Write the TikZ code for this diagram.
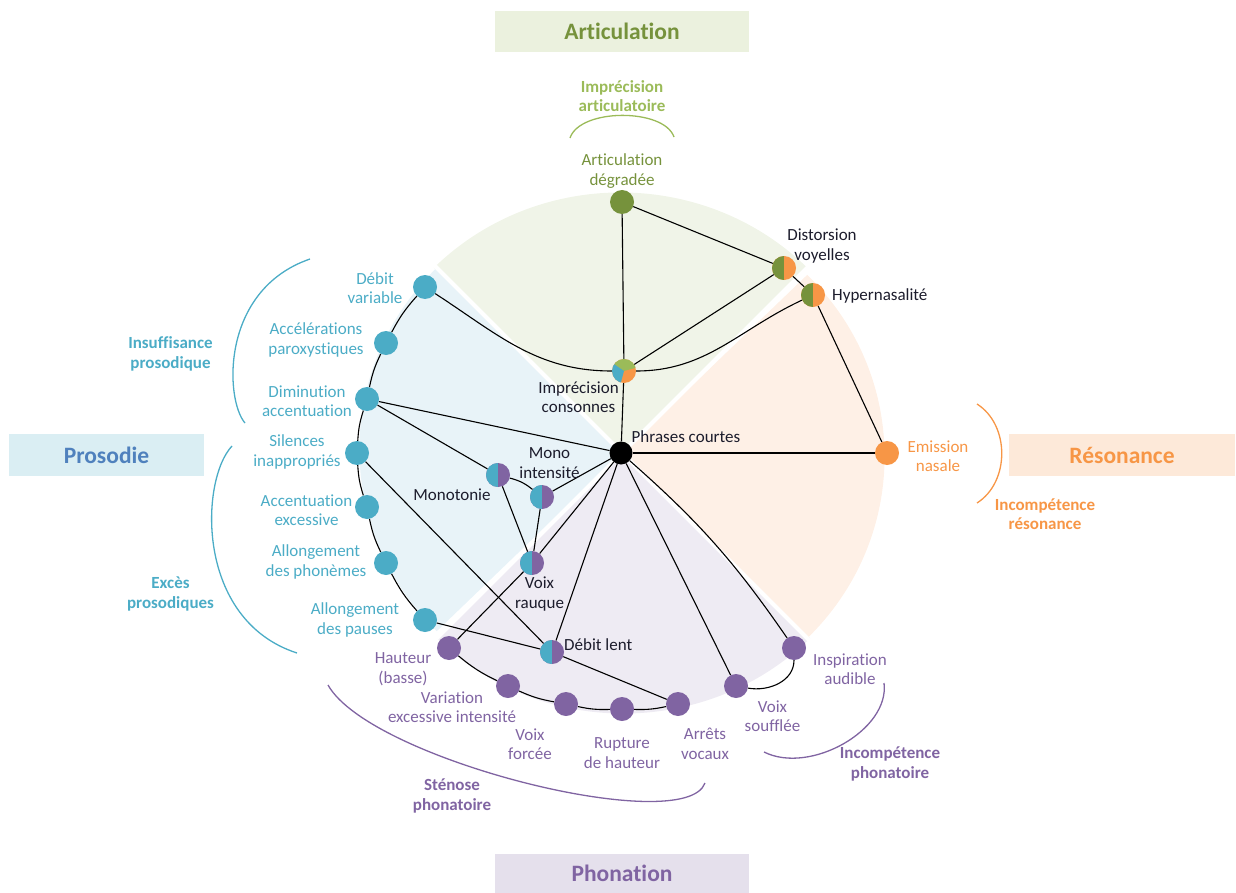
\documentclass[tikz,border=0pt]{standalone}
\usepackage{fontspec}
\setmainfont{Carlito}[Ligatures=NoCommon]
\definecolor{artdark}{HTML}{76923C}
\definecolor{artlight}{HTML}{9BBB59}
\definecolor{prosteal}{HTML}{4BACC6}
\definecolor{prosblue}{HTML}{4F81BD}
\definecolor{resor}{HTML}{F79646}
\definecolor{phonpur}{HTML}{8064A2}
\definecolor{artbg}{HTML}{F0F4E8}
\definecolor{prosbg}{HTML}{E8F3F8}
\definecolor{resbg}{HTML}{FEF0E6}
\definecolor{phonbg}{HTML}{EEEBF3}
\definecolor{artbox}{HTML}{EBF1DE}
\definecolor{prosbox}{HTML}{DAEEF3}
\definecolor{resbox}{HTML}{FDE9D9}
\definecolor{phonbox}{HTML}{E5E0EC}
\definecolor{ink}{HTML}{1C1C2C}
\tikzset{
  dot/.style={circle, minimum size=24pt, inner sep=0pt, draw=none},
  bluedot/.style={dot, fill=prosteal},
  purpdot/.style={dot, fill=phonpur},
  greendot/.style={dot, fill=artdark},
  orangedot/.style={dot, fill=resor},
  halfdot/.style 2 args={dot, fill=#2,
    path picture={\fill[#1] (path picture bounding box.south west) rectangle (path picture bounding box.north);}},
  link/.style={draw=black, line width=1.1pt},
  brk/.style={line width=1.3pt},
  lbl/.style={font=\fontsize{17}{19.5}\selectfont, align=center, inner sep=0pt},
  blbl/.style={lbl, font=\fontsize{17}{19.5}\selectfont\bfseries},
  titlebox/.style={font=\fontsize{23.5}{26}\selectfont\bfseries, inner sep=0pt}
}
\begin{document}
\begin{tikzpicture}[x=1pt,y=1pt]
\useasboundingbox (0,0) rectangle (1236,-893);
\coordinate (C) at (622,-453);

% four coloured sectors of the wheel
\fill[artbg]  (C) -- ++(45:262)  arc[start angle=45,  end angle=135, x radius=264, y radius=257] -- cycle;
\fill[prosbg] (C) -- ++(135:262) arc[start angle=135, end angle=225, x radius=264, y radius=257] -- cycle;
\fill[phonbg] (C) -- ++(225:262) arc[start angle=225, end angle=315, x radius=264, y radius=257] -- cycle;
\fill[resbg]  (C) -- ++(-45:262) arc[start angle=-45, end angle=45,  x radius=264, y radius=257] -- cycle;
\foreach \a in {45,135,225,315} \draw[white, line width=4pt] (C) -- ++(\a:280);

% category boxes
\node[titlebox, fill=artbox, text=artdark, minimum width=254pt, minimum height=41pt] (tart) at (622,-31.5) {Articulation};
\node[titlebox, fill=prosbox, text=prosblue, minimum width=195pt, minimum height=42pt] (tpros) at (106.5,-455) {Prosodie};
\node[titlebox, fill=resbox, text=resor, minimum width=226pt, minimum height=42pt] (tres) at (1122,-455) {Résonance};
\node[titlebox, fill=phonbox, text=phonpur, minimum width=254pt, minimum height=39pt] (tphon) at (622,-873.5) {Phonation};

% symptom nodes
\node[dot, fill=black, minimum size=23pt] (pc) at (621,-453) {};
\node[greendot] (ad) at (622,-202) {};
\node[halfdot={artdark}{resor}] (dv) at (784,-268) {};
\node[halfdot={artdark}{resor}] (hy) at (813,-295) {};
\node[dot, fill=resor,
  path picture={
    \fill[artlight] (path picture bounding box.center) -- ++(15:14) arc[start angle=15, end angle=145, radius=14] -- cycle;
    \fill[prosteal] (path picture bounding box.center) -- ++(145:14) arc[start angle=145, end angle=255, radius=14] -- cycle;
  }] (ic) at (624,-371) {};
\node[orangedot] (en) at (887,-453) {};

\node[bluedot] (dvar) at (425,-287) {};
\node[bluedot] (ap) at (386,-343) {};
\node[bluedot] (da) at (367,-399) {};
\node[bluedot] (si) at (357,-453) {};
\node[bluedot] (ae) at (367,-507) {};
\node[bluedot] (aph) at (386,-563) {};
\node[bluedot] (apa) at (425,-620) {};

\node[halfdot={prosteal}{phonpur}] (mo) at (498,-475) {};
\node[halfdot={prosteal}{phonpur}] (mi) at (542,-497) {};
\node[halfdot={prosteal}{phonpur}] (vr) at (532,-563) {};
\node[halfdot={prosteal}{phonpur}] (dl) at (552,-652) {};

\node[purpdot] (hb) at (449,-648) {};
\node[purpdot] (vei) at (508,-686) {};
\node[purpdot] (vf) at (566,-704) {};
\node[purpdot] (rh) at (622,-709) {};
\node[purpdot] (av) at (678,-704) {};
\node[purpdot] (vs) at (736,-686) {};
\node[purpdot] (ia) at (794,-648) {};

% connections
\draw[link] (ad) -- (ic);
\draw[link] (ic) -- (pc);
\draw[link] (ad) -- (dv);
\draw[link] (dv) -- (ic);
\draw[link] (dv) -- (hy);
\draw[link] (dvar) to[out=-33, in=180] (ic);
\draw[link] (ic) to[out=0, in=-155] (hy);
\draw[link] (hy) -- (en);
\draw[link] (pc) -- (en);

\draw[link] (dvar) to[bend right=7] (ap);
\draw[link] (ap) to[bend right=7] (da);
\draw[link] (da) to[bend right=7] (si);
\draw[link] (si) to[bend right=7] (ae);
\draw[link] (ae) to[bend right=7] (aph);
\draw[link] (aph) to[bend right=7] (apa);

\draw[link] (da) -- (pc);
\draw[link] (da) -- (mo);
\draw[link] (mo) to[bend left=12] (mi);
\draw[link] (mi) -- (pc);
\draw[link] (mi) -- (vr);
\draw[link] (mo) -- (vr);
\draw[link] (vr) -- (pc);
\draw[link] (vr) -- (hb);
\draw[link] (si) -- (dl);
\draw[link] (apa) -- (dl);
\draw[link] (dl) -- (pc);
\draw[link] (dl) -- (av);

\draw[link] (hb) to[bend right=7] (vei);
\draw[link] (vei) to[bend right=7] (vf);
\draw[link] (vf) to[bend right=7] (rh);
\draw[link] (rh) to[bend right=7] (av);
\draw[link] (pc) -- (vs);
\draw[link] (pc) to[bend left=7] (ia);
\draw[link] (ia) to[out=-90, in=-10] (vs);

% group brackets
\draw[brk, draw=artlight] (570,-138) .. controls (580,-108) and (664,-108) .. (674,-137);
\draw[brk, draw=prosteal] (310,-259) .. controls (220,-290) and (225,-400) .. (245,-423);
\draw[brk, draw=prosteal] (232,-446) .. controls (200,-480) and (195,-620) .. (297,-653);
\draw[brk, draw=resor] (977,-404) .. controls (1010,-425) and (1010,-482) .. (977,-503);
\draw[brk, draw=phonpur] (328,-685) .. controls (370,-760) and (685,-838) .. (705,-783);
\draw[brk, draw=phonpur] (884,-683) .. controls (890,-730) and (810,-775) .. (764,-752);

% group names
\node[blbl, text=artlight] (g-art) at (622,-96) {Imprécision\\articulatoire};
\node[blbl, text=prosteal] (g-insuf) at (170.5,-354) {Insuffisance\\prosodique};
\node[blbl, text=prosteal] (g-exces) at (170.5,-594) {Excès\\prosodiques};
\node[blbl, text=resor] (g-res) at (1045,-514) {Incompétence\\résonance};
\node[blbl, text=phonpur] (g-sten) at (452,-796) {Sténose\\phonatoire};
\node[blbl, text=phonpur] (g-incph) at (890,-764) {Incompétence\\phonatoire};

% symptom names
\node[lbl, text=artdark] (l-ad) at (622,-171) {Articulation\\dégradée};
\node[lbl, text=ink] (l-dv) at (822,-246) {Distorsion\\voyelles};
\node[lbl, text=ink, anchor=west] (l-hy) at (832,-296) {Hypernasalité};
\node[lbl, text=ink] (l-ic) at (578.5,-397) {Imprécision\\consonnes};
\node[lbl, text=ink, anchor=west] (l-pc) at (631.5,-437) {Phrases courtes};
\node[lbl, text=resor] (l-en) at (938,-456) {Emission\\nasale};

\node[lbl, text=prosteal] (l-dvar) at (375,-288) {Débit\\variable};
\node[lbl, text=prosteal] (l-ap) at (316,-340) {Accélérations\\paroxystiques};
\node[lbl, text=prosteal] (l-da) at (307,-401) {Diminution\\accentuation};
\node[lbl, text=prosteal] (l-si) at (297,-452) {Silences\\inappropriés};
\node[lbl, text=prosteal] (l-ae) at (306.5,-510) {Accentuation\\excessive};
\node[lbl, text=prosteal] (l-aph) at (316,-562) {Allongement\\des phonèmes};
\node[lbl, text=prosteal] (l-apa) at (355,-620) {Allongement\\des pauses};

\node[lbl, text=ink] (l-mi) at (549.5,-463) {Mono\\intensité};
\node[lbl, text=ink] (l-mo) at (452,-495) {Monotonie};
\node[lbl, text=ink] (l-vr) at (539.5,-594) {Voix\\rauque};
\node[lbl, text=ink, anchor=west] (l-dl) at (564,-645) {Débit lent};

\node[lbl, text=phonpur] (l-hb) at (403,-669) {Hauteur\\(basse)};
\node[lbl, text=phonpur] (l-vei) at (452,-707) {Variation\\excessive intensité};
\node[lbl, text=phonpur] (l-vf) at (530,-744) {Voix\\forcée};
\node[lbl, text=phonpur] (l-rh) at (622,-753) {Rupture\\de hauteur};
\node[lbl, text=phonpur] (l-av) at (705,-744) {Arrêts\\vocaux};
\node[lbl, text=phonpur] (l-vs) at (772.5,-716) {Voix\\soufflée};
\node[lbl, text=phonpur] (l-ia) at (850,-669) {Inspiration\\audible};
\end{tikzpicture}
\end{document}
